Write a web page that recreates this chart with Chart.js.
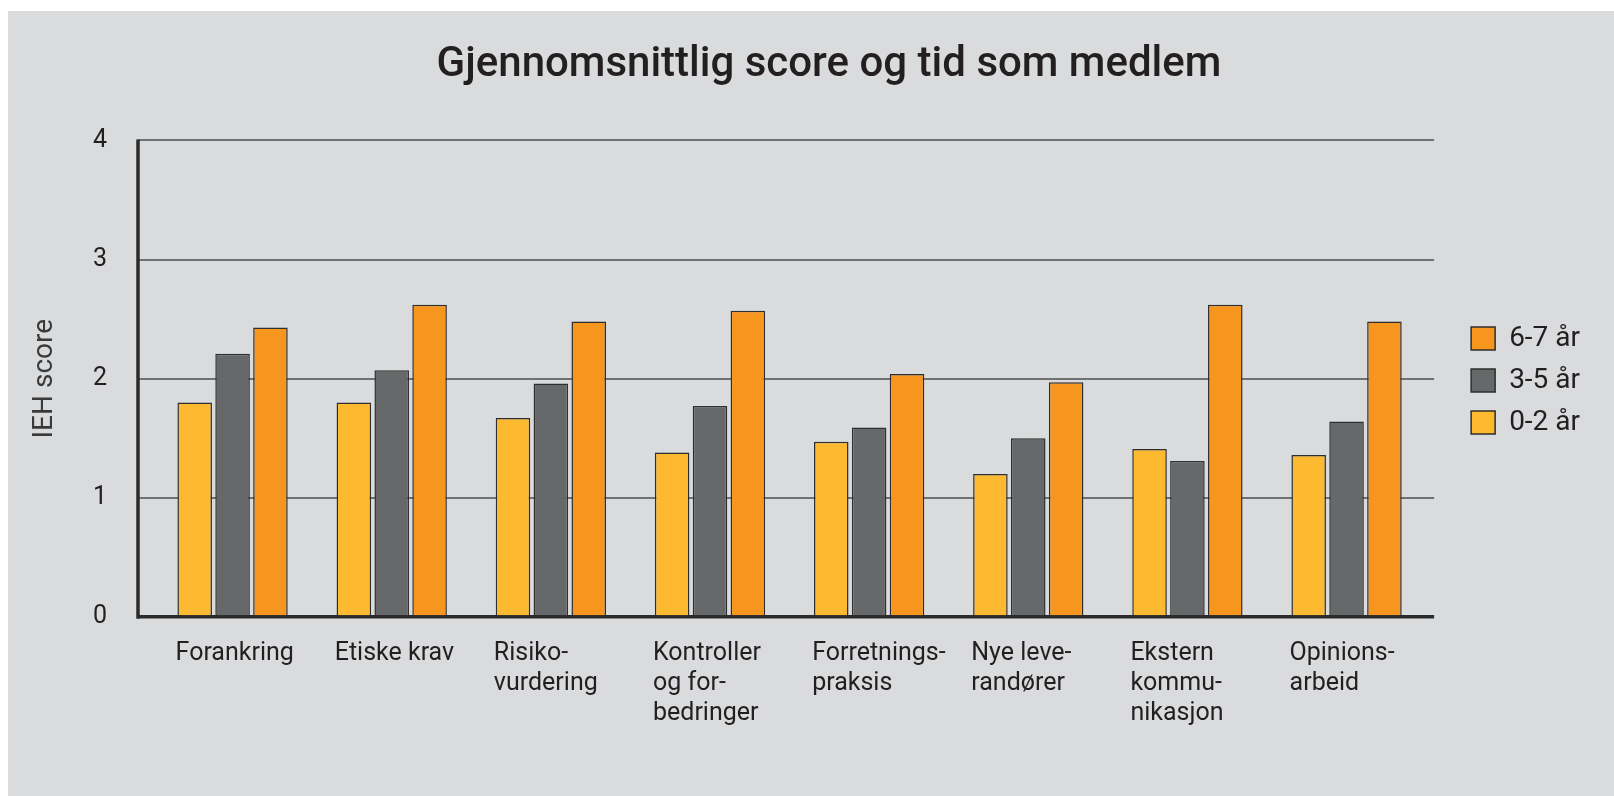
<!DOCTYPE html>
<html>
<head>
<meta charset="utf-8">
<script src="https://cdn.jsdelivr.net/npm/chart.js@4"></script>
<style>
  body { margin: 0; background: #fff; overflow: hidden; }
  #panel { position: absolute; left: 8px; top: 11px; width: 1606px; height: 785px; background: #dadbdd; }
</style>
</head>
<body>
<div id="panel"><canvas id="chart" width="1606" height="785"></canvas></div>
<script>
const categories = [
  "Forankring",
  "Etiske krav",
  ["Risiko-", "vurdering"],
  ["Kontroller", "og for-", "bedringer"],
  ["Forretnings-", "praksis"],
  ["Nye leve-", "randører"],
  ["Ekstern", "kommu-", "nikasjon"],
  ["Opinions-", "arbeid"]
];
const seriesNames = ["0-2 år", "3-5 år", "6-7 år"];
const score02 = [1.80, 1.80, 1.67, 1.38, 1.47, 1.20, 1.41, 1.36];
const score35 = [2.21, 2.07, 1.96, 1.77, 1.59, 1.50, 1.31, 1.64];
const score67 = [2.43, 2.62, 2.48, 2.57, 2.04, 1.97, 2.62, 2.48];
const colors = ["#fdb92f", "#676869", "#f7961e"];

const font = "Roboto";
const textColor = "#231f20";
const gridColor = (c) => c.tick && c.tick.value === 0 ? "#2a2a2a" : "#707173";
const gridWidth = (c) => c.tick && c.tick.value === 0 ? 3.5 : 2;

// the y axis line sits left of the first category, where the gridline ticks start
const yAxisLine = {
  id: "yAxisLine",
  afterDatasetsDraw(chart) {
    const y = chart.scales.y;
    const x = y.right - y.options.grid.tickLength;
    const ctx = chart.ctx;
    ctx.save();
    ctx.strokeStyle = "#2a2a2a";
    ctx.lineWidth = 3.5;
    ctx.beginPath();
    ctx.moveTo(x, y.top - 1);
    ctx.lineTo(x, y.bottom + 1.75);
    ctx.stroke();
    ctx.restore();
  }
};

const datasets = [score02, score35, score67].map((data, i) => ({
  label: seriesNames[i],
  data: data,
  backgroundColor: colors[i],
  borderColor: "#2e2e2e",
  borderWidth: 1.5,
  categoryPercentage: 0.714,
  barPercentage: 0.912
}));

new Chart(document.getElementById("chart"), {
  type: "bar",
  data: { labels: categories, datasets: datasets },
  plugins: [yAxisLine],
  options: {
    responsive: false,
    animation: false,
    layout: { padding: { left: 60, right: 24, top: 19, bottom: 53 } },
    plugins: {
      title: {
        display: true,
        text: "Gjennomsnittlig score og tid som medlem",
        color: textColor,
        font: { family: font, size: 42, weight: "500" },
        padding: { top: 10, bottom: 50 }
      },
      legend: {
        position: "right",
        align: "center",
        reverse: true,
        // empty legend title with negative padding lifts the items a few pixels
        title: { display: true, text: "", font: { size: 1, lineHeight: 1 }, padding: { top: -13, bottom: 0 } },
        labels: {
          boxWidth: 24,
          boxHeight: 23,
          padding: 14,
          color: textColor,
          font: { family: font, size: 28 }
        }
      },
      tooltip: { enabled: false }
    },
    scales: {
      x: {
        grid: { display: false },
        border: { display: false },
        ticks: {
          align: "start",
          labelOffset: -57,
          padding: 14,
          maxRotation: 0,
          autoSkip: false,
          color: textColor,
          font: { family: font, size: 25, lineHeight: 1.2 }
        }
      },
      y: {
        min: 0,
        max: 4,
        afterFit: (s) => { s.width = 85; },
        ticks: {
          stepSize: 1,
          padding: 31,
          color: textColor,
          font: { family: font, size: 25 }
        },
        grid: { tickLength: 15, color: gridColor, lineWidth: gridWidth },
        border: { display: false },
        title: {
          display: true,
          text: "IEH score",
          color: "#3a3a3a",
          font: { family: font, size: 28 },
          padding: { top: -39.8, bottom: 0 }
        }
      },
      // empty right axis: keeps the gap before the legend and carries the gridlines a little past the last group
      gap: {
        type: "linear",
        position: "right",
        min: 0,
        max: 4,
        afterFit: (s) => { s.width = 31; },
        ticks: { stepSize: 1, display: false },
        grid: { drawOnChartArea: false, tickLength: 8, color: gridColor, lineWidth: gridWidth },
        border: { display: false }
      }
    }
  }
});
</script>
</body>
</html>
